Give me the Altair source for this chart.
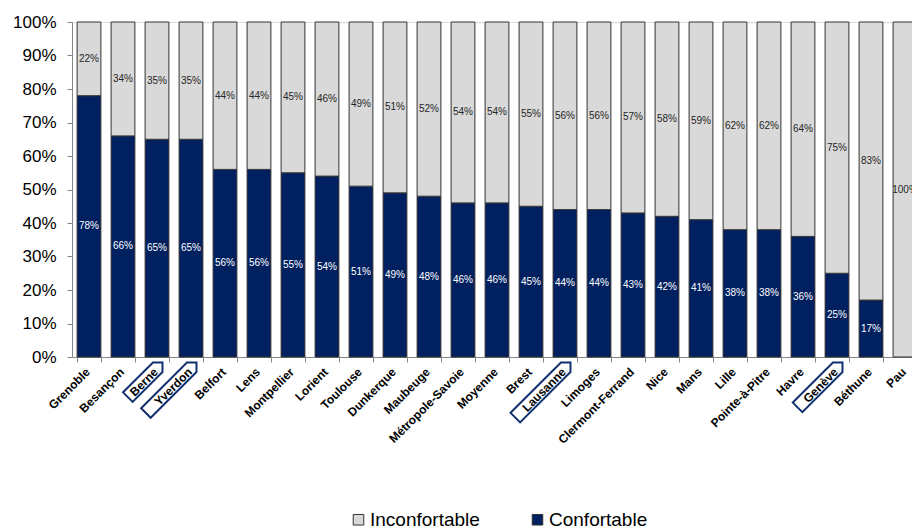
import altair as alt
import pandas as pd

# Cities in display order (sorted by share of "Confortable")
categories = [
    "Grenoble", "Besançon", "Berne", "Yverdon", "Belfort", "Lens", "Montpellier",
    "Lorient", "Toulouse", "Dunkerque", "Maubeuge", "Métropole-Savoie", "Moyenne",
    "Brest", "Lausanne", "Limoges", "Clermont-Ferrand", "Nice", "Mans", "Lille",
    "Pointe-à-Pitre", "Havre", "Genève", "Béthune", "Pau",
]
confortable = [78, 66, 65, 65, 56, 56, 55, 54, 51, 49, 48, 46, 46, 45, 44, 44,
               43, 42, 41, 38, 38, 36, 25, 17, 0]
inconfortable = [22, 34, 35, 35, 44, 44, 45, 46, 49, 51, 52, 54, 54, 55, 56, 56,
                 57, 58, 59, 62, 62, 64, 75, 83, 100]
y_ticks = [0, 10, 20, 30, 40, 50, 60, 70, 80, 90, 100]
series = ["Inconfortable", "Confortable"]
swiss_cities = ["Berne", "Yverdon", "Lausanne", "Genève"]

NAVY = "#002060"
LIGHT = "#d9d9d9"
AXIS_GREY = "#868686"
FONT = "Liberation Sans"

rows = []
for city, c, i in zip(categories, confortable, inconfortable):
    rows.append({"ville": city, "serie": "Confortable", "share": c, "ord": 0,
                 "mid": c / 2, "label": f"{c}%" if c else ""})
    rows.append({"ville": city, "serie": "Inconfortable", "share": i, "ord": 1,
                 "mid": c + i / 2, "label": f"{i}%" if i else ""})
df = pd.DataFrame(rows)

# Arrow-shaped frame drawn around the Swiss city labels (pixel units, rotated with the label)
tag_length = {"Berne": 49, "Yverdon": 71.5, "Lausanne": 78, "Genève": 63.5}


def tag_path(length):
    return (f"M0,7.75 L-6.75,1 L-{length},1 L-{length},14.5 L-6.75,14.5 Z")


tags = pd.DataFrame({
    "ville": swiss_cities,
    "path": [tag_path(tag_length[c]) for c in swiss_cities],
    "base": [0.0] * len(swiss_cities),
})

x_scale = alt.Scale(range=[0, 850], paddingInner=0.3, paddingOuter=0.15)
x_axis = alt.Axis(
    title=None, labelAngle=315, labelAlign="right", labelBaseline="middle",
    labelFont=FONT, labelFontWeight="bold", labelFontSize=12, labelColor="#000000",
    labelOffset=-1.5, labelPadding=7.5, labelOverlap=False, labelBound=False,
    tickSize=5, tickBand="extent", tickColor=AXIS_GREY, domainColor=AXIS_GREY,
)
y_scale = alt.Scale(domain=[0, 100], nice=False)
y_axis = alt.Axis(
    title=None, values=y_ticks, labelExpr="datum.value + '%'", grid=False,
    labelFont=FONT, labelFontSize=17, labelColor="#000000", labelPadding=11,
    labelOverlap=False, labelSeparation=0, tickSize=5, tickColor=AXIS_GREY,
    domainColor=AXIS_GREY,
)


def x_enc():
    return alt.X("ville:N", sort=categories, scale=x_scale, axis=x_axis)


def y_enc(field, **kw):
    return alt.Y(field, scale=y_scale, axis=y_axis, **kw)


bars = alt.Chart(df).transform_filter(alt.datum.share > 0).mark_bar(
    stroke="#333333", strokeWidth=1
).encode(
    x=x_enc(),
    y=y_enc("share:Q", stack="zero"),
    color=alt.Color(
        "serie:N",
        scale=alt.Scale(domain=series, range=[LIGHT, NAVY]),
        legend=alt.Legend(
            title=None, orient="none", direction="horizontal",
            legendX=277, legendY=488, padding=0,
            symbolType="square", symbolSize=112, symbolStrokeColor="#333333",
            symbolStrokeWidth=1, labelFont=FONT, labelFontSize=19,
            labelColor="#000000", labelOffset=2, columnPadding=48,
        ),
    ),
    order=alt.Order("ord:Q"),
)

text_light = alt.Chart(df).transform_filter(
    alt.datum.serie == "Inconfortable"
).mark_text(font=FONT, fontSize=10, color="#262626").encode(
    x=x_enc(),
    y=y_enc("mid:Q"),
    text="label:N",
)

text_dark = alt.Chart(df).transform_filter(
    alt.datum.serie == "Confortable"
).mark_text(font=FONT, fontSize=10, color="#ffffff").encode(
    x=x_enc(),
    y=y_enc("mid:Q"),
    text="label:N",
)

tag_marks = alt.Chart(tags).mark_point(
    size=4, angle=315, filled=False, stroke="#10306e", strokeWidth=2, opacity=1
).encode(
    x=x_enc(),
    y=y_enc("base:Q"),
    shape=alt.Shape("path:N", scale=None),
)

chart = alt.layer(bars, text_light, text_dark, tag_marks).properties(
    width=840, height=335,
    autosize=alt.AutoSizeParams(type="none"),
    padding={"left": 72, "top": 22, "right": 0, "bottom": 171},
).configure_view(stroke=None).configure(background="white")

chart.save("out.html", embed_options={"renderer": "svg", "actions": False})
